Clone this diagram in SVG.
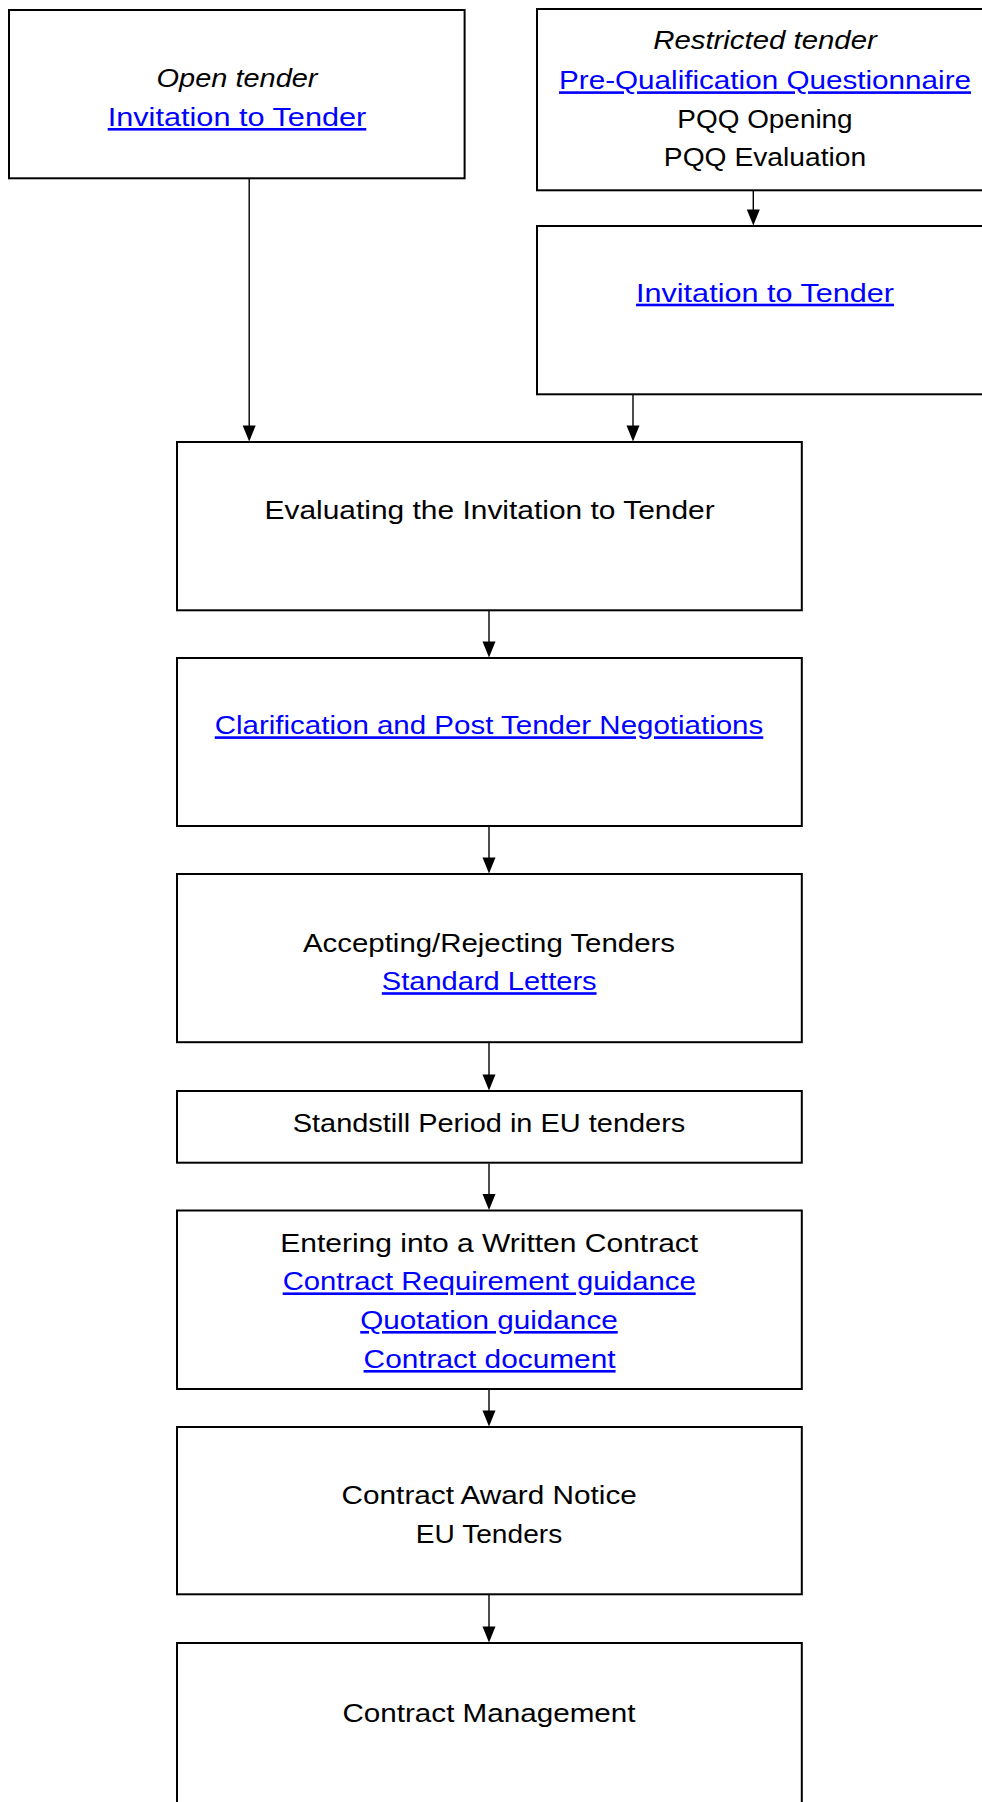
<svg xmlns="http://www.w3.org/2000/svg" width="982" height="1802" viewBox="0 0 982 1802">
<style>
.box{fill:#fff;stroke:#000;stroke-width:2}
.t{font-family:"Liberation Sans",Arial,sans-serif;font-size:26px;fill:#000;text-anchor:middle}
.i{font-style:italic}
.lk{fill:#0000ff;text-decoration:underline}
.c{stroke:#000;stroke-width:1.4;fill:none}
.h{fill:#000}
</style>
<rect width="982" height="1802" fill="#fff"/>
<g id="open-tender">
<rect class="box" x="9" y="10" width="455.6" height="168.3"/>
<text class="t i" x="237" y="87.3" textLength="161" lengthAdjust="spacingAndGlyphs">Open tender</text>
<text class="t lk" x="237" y="126" textLength="258.6" lengthAdjust="spacingAndGlyphs">Invitation to Tender</text>
</g>
<g id="restricted-tender">
<rect class="box" x="537" y="9" width="456" height="181.3"/>
<text class="t i" x="765" y="49.3" textLength="223.6" lengthAdjust="spacingAndGlyphs">Restricted tender</text>
<text class="t lk" x="765" y="89.3" textLength="412" lengthAdjust="spacingAndGlyphs">Pre-Qualification Questionnaire</text>
<text class="t" x="765" y="127.7" textLength="175.3" lengthAdjust="spacingAndGlyphs">PQQ Opening</text>
<text class="t" x="765" y="165.7" textLength="202.3" lengthAdjust="spacingAndGlyphs">PQQ Evaluation</text>
</g>
<g id="invitation-restricted">
<rect class="box" x="537" y="226" width="456" height="168.3"/>
<text class="t lk" x="765" y="301.7" textLength="258" lengthAdjust="spacingAndGlyphs">Invitation to Tender</text>
</g>
<g id="evaluating">
<rect class="box" x="177" y="442" width="624.8" height="168.3"/>
<text class="t" x="489.6" y="519" textLength="450.2" lengthAdjust="spacingAndGlyphs">Evaluating the Invitation to Tender</text>
</g>
<g id="clarification">
<rect class="box" x="177" y="658" width="624.8" height="168"/>
<text class="t lk" x="489" y="734.3" textLength="548.5" lengthAdjust="spacingAndGlyphs">Clarification and Post Tender Negotiations</text>
</g>
<g id="accepting">
<rect class="box" x="177" y="874" width="624.8" height="168.2"/>
<text class="t" x="489" y="952.3" textLength="372" lengthAdjust="spacingAndGlyphs">Accepting/Rejecting Tenders</text>
<text class="t lk" x="489.2" y="990.2" textLength="214.8" lengthAdjust="spacingAndGlyphs">Standard Letters</text>
</g>
<g id="standstill">
<rect class="box" x="177" y="1091" width="624.8" height="71.7"/>
<text class="t" x="489" y="1132" textLength="392.6" lengthAdjust="spacingAndGlyphs">Standstill Period in EU tenders</text>
</g>
<g id="entering">
<rect class="box" x="177" y="1210.5" width="624.8" height="178.5"/>
<text class="t" x="489.2" y="1251.9" textLength="418" lengthAdjust="spacingAndGlyphs">Entering into a Written Contract</text>
<text class="t lk" x="489.2" y="1290.4" textLength="413" lengthAdjust="spacingAndGlyphs">Contract Requirement guidance</text>
<text class="t lk" x="489" y="1329" textLength="257.5" lengthAdjust="spacingAndGlyphs">Quotation guidance</text>
<text class="t lk" x="489.6" y="1368" textLength="252" lengthAdjust="spacingAndGlyphs">Contract document</text>
</g>
<g id="award">
<rect class="box" x="177" y="1427" width="624.8" height="167.3"/>
<text class="t" x="489.2" y="1504" textLength="295.2" lengthAdjust="spacingAndGlyphs">Contract Award Notice</text>
<text class="t" x="489" y="1542.7" textLength="146.4" lengthAdjust="spacingAndGlyphs">EU Tenders</text>
</g>
<g id="management">
<rect class="box" x="177" y="1643" width="624.8" height="170"/>
<text class="t" x="489" y="1722.3" textLength="293.1" lengthAdjust="spacingAndGlyphs">Contract Management</text>
</g>
<g id="connectors">
<line class="c" x1="249.2" y1="179" x2="249.2" y2="428"/>
<polygon class="h" points="242.7,425.5 255.7,425.5 249.2,441.5"/>
<line class="c" x1="753.3" y1="191" x2="753.3" y2="212"/>
<polygon class="h" points="746.8,209.5 759.8,209.5 753.3,225.5"/>
<line class="c" x1="633" y1="395" x2="633" y2="428"/>
<polygon class="h" points="626.5,425.5 639.5,425.5 633,441.5"/>
<line class="c" x1="489" y1="611" x2="489" y2="644"/>
<polygon class="h" points="482.5,641.5 495.5,641.5 489,657.5"/>
<line class="c" x1="489" y1="827" x2="489" y2="860"/>
<polygon class="h" points="482.5,857.5 495.5,857.5 489,873.5"/>
<line class="c" x1="489" y1="1043" x2="489" y2="1077"/>
<polygon class="h" points="482.5,1074.5 495.5,1074.5 489,1090.5"/>
<line class="c" x1="489" y1="1163.5" x2="489" y2="1196"/>
<polygon class="h" points="482.5,1194 495.5,1194 489,1210"/>
<line class="c" x1="489" y1="1390" x2="489" y2="1413"/>
<polygon class="h" points="482.5,1410.5 495.5,1410.5 489,1426.5"/>
<line class="c" x1="489" y1="1595" x2="489" y2="1629"/>
<polygon class="h" points="482.5,1626.5 495.5,1626.5 489,1642.5"/>
</g>
</svg>
